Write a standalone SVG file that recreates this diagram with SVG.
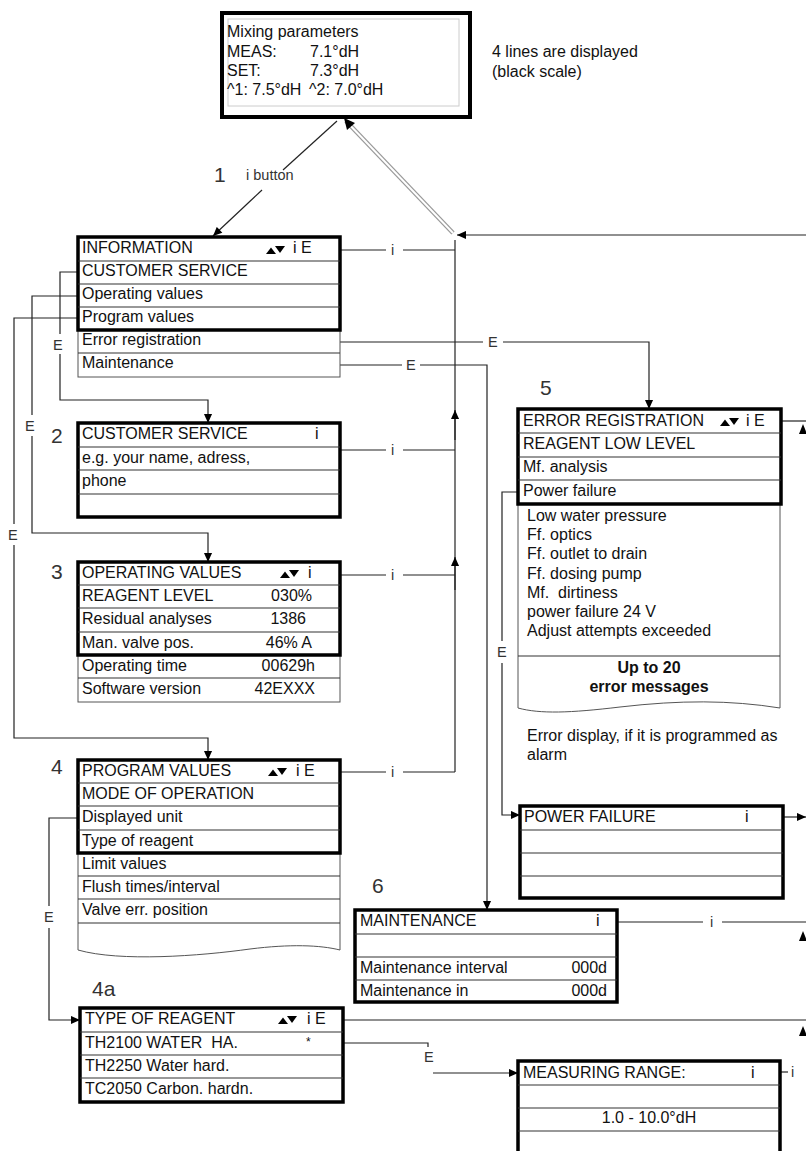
<svg xmlns="http://www.w3.org/2000/svg" width="806" height="1151" viewBox="0 0 806 1151">
<style>
text{font-family:"Liberation Sans",Arial,sans-serif;font-size:16px;fill:#111}
.num{font-size:21px;fill:#333}
.lbl{font-size:14.5px;fill:#333}
.b{font-weight:bold;font-size:16px}
.thick{fill:#fff;stroke:#000;stroke-width:3.5}
.thin{fill:#fff;stroke:#555;stroke-width:1}
.row{stroke:#333;stroke-width:1.2}
.c{fill:none;stroke:#222;stroke-width:1.2}
</style>
<defs>
<marker id="a" viewBox="0 0 10 10" refX="10" refY="5" markerWidth="10" markerHeight="9" markerUnits="userSpaceOnUse" orient="auto"><path d="M0,0.5 L10,5 L0,9.5 z" fill="#000"/></marker>
<g id="ud"><polygon points="0,8 5,1.5 10,8" fill="#000"/><polygon points="9,0 19,0 14,7" fill="#000"/></g>
</defs>

<g id="connectors">
<path class="c" d="M337,121 L283,170"/>
<path class="c" d="M262,190 L213,236" marker-end="url(#a)"/>
<path d="M453,233 L346,121" stroke="#999" stroke-width="4.5" fill="none"/>
<path d="M453,233 L346,121" stroke="#fff" stroke-width="2" fill="none"/>
<polygon points="344,118 347,130 355,123" fill="#000"/>
<path class="c" d="M806,235 H457" marker-end="url(#a)"/>
<path class="c" d="M455,772 V240"/>
<path class="c" d="M455,440 V410" marker-end="url(#a)"/>
<path class="c" d="M455,590 V557" marker-end="url(#a)"/>
<path class="c" d="M340,250 H386 M403,250 H455"/>
<path class="c" d="M340,450 H386 M403,450 H455"/>
<path class="c" d="M340,575 H386 M403,575 H455"/>
<path class="c" d="M340,772 H386 M403,772 H455"/>
<path class="c" d="M78,272 H60 V334 M60,354 V400 H208 V423" marker-end="url(#a)"/>
<path class="c" d="M78,296 H32 V415 M32,436 V533 H208 V562" marker-end="url(#a)"/>
<path class="c" d="M78,318 H14 V524 M14,545 V738 H208 V760" marker-end="url(#a)"/>
<path class="c" d="M78,818 H49 V906 M49,928 V1020 H80" marker-end="url(#a)"/>
<path class="c" d="M340,342 H483 M503,342 H649 V409" marker-end="url(#a)"/>
<path class="c" d="M340,365 H402 M420,365 H487 V910" marker-end="url(#a)"/>
<path class="c" d="M518,492 H502 V641 M502,663 V815 H520" marker-end="url(#a)"/>
<path class="c" d="M343,1043 H428 V1047"/>
<path class="c" d="M433,1073 H518" marker-end="url(#a)"/>
<path class="c" d="M781,421 H806"/>
<path class="c" d="M783,817 H806" marker-end="url(#a)"/>
<path class="c" d="M617,922 H703 M722,922 H806"/>
<path class="c" d="M343,1020 H806"/>
<path class="c" d="M780,1072 H788"/>
<polygon points="799,434 803,424 807,434" fill="#000"/>
<polygon points="799,941 803,931 807,941" fill="#000"/>
<polygon points="799,1036 803,1026 807,1036" fill="#000"/>
<text class="lbl" x="391" y="255">i</text>
<text class="lbl" x="391" y="455">i</text>
<text class="lbl" x="391" y="580">i</text>
<text class="lbl" x="391" y="777">i</text>
<text class="lbl" x="710" y="927">i</text>
<text class="lbl" x="53" y="350">E</text>
<text class="lbl" x="25" y="431">E</text>
<text class="lbl" x="8" y="540">E</text>
<text class="lbl" x="44" y="922">E</text>
<text class="lbl" x="488" y="347">E</text>
<text class="lbl" x="406" y="370">E</text>
<text class="lbl" x="497" y="657">E</text>
<text class="lbl" x="424" y="1062">E</text>
<text class="lbl" x="791" y="1077">i</text>
</g>

<g id="top">
<rect x="222" y="13" width="248" height="104" fill="#fff" stroke="#000" stroke-width="4"/>
<rect x="228" y="19" width="231" height="87" fill="none" stroke="#ccc" stroke-width="1"/>
<text x="227" y="37">Mixing parameters</text>
<text x="227" y="57">MEAS:</text><text x="310" y="57">7.1°dH</text>
<text x="227" y="76">SET:</text><text x="310" y="76">7.3°dH</text>
<text x="227" y="95">^1: 7.5°dH</text><text x="309" y="95">^2: 7.0°dH</text>
</g>
<g id="note">
<text x="492" y="57">4 lines are displayed</text>
<text x="492" y="77">(black scale)</text>
</g>
<g id="label1">
<text class="num" x="214" y="182">1</text>
<text class="lbl" x="246" y="180">i button</text>
</g>

<g id="information">
<rect class="thin" x="78" y="330" width="262" height="47"/>
<line class="row" x1="78" y1="353" x2="340" y2="353"/>
<rect class="thick" x="78" y="237" width="262" height="93"/>
<line class="row" x1="78" y1="261" x2="340" y2="261"/>
<line class="row" x1="78" y1="284" x2="340" y2="284"/>
<line class="row" x1="78" y1="307" x2="340" y2="307"/>
<text x="82" y="253">INFORMATION</text>
<use href="#ud" x="266" y="246"/>
<text x="293" y="253">i E</text>
<text x="82" y="276">CUSTOMER SERVICE</text>
<text x="82" y="299">Operating values</text>
<text x="82" y="322">Program values</text>
<text x="82" y="345">Error registration</text>
<text x="82" y="368">Maintenance</text>
</g>

<g id="customer-service">
<text class="num" x="51" y="443">2</text>
<rect class="thick" x="78" y="423" width="262" height="94"/>
<line class="row" x1="78" y1="447" x2="340" y2="447"/>
<line class="row" x1="78" y1="470" x2="340" y2="470"/>
<line class="row" x1="78" y1="494" x2="340" y2="494"/>
<text x="82" y="439">CUSTOMER SERVICE</text>
<text x="315" y="439">i</text>
<text x="82" y="463">e.g. your name, adress,</text>
<text x="82" y="486">phone</text>
</g>

<g id="operating-values">
<text class="num" x="51" y="579">3</text>
<rect class="thin" x="78" y="655" width="262" height="47"/>
<line class="row" x1="78" y1="678" x2="340" y2="678"/>
<rect class="thick" x="78" y="562" width="262" height="93"/>
<line class="row" x1="78" y1="585" x2="340" y2="585"/>
<line class="row" x1="78" y1="608" x2="340" y2="608"/>
<line class="row" x1="78" y1="632" x2="340" y2="632"/>
<text x="82" y="578">OPERATING VALUES</text>
<use href="#ud" x="280" y="570"/>
<text x="308" y="578">i</text>
<text x="82" y="601">REAGENT LEVEL</text><text x="312" y="601" text-anchor="end">030%</text>
<text x="82" y="624">Residual analyses</text><text x="306" y="624" text-anchor="end">1386</text>
<text x="82" y="648">Man. valve pos.</text><text x="312" y="648" text-anchor="end">46% A</text>
<text x="82" y="671">Operating time</text><text x="315" y="671" text-anchor="end">00629h</text>
<text x="82" y="694">Software version</text><text x="315" y="694" text-anchor="end">42EXXX</text>
</g>

<g id="program-values">
<text class="num" x="51" y="774">4</text>
<path class="thin" d="M78,853 V950 C120,962 200,956 250,949 C290,944 320,945 340,950 V853 Z"/>
<line class="row" x1="78" y1="876" x2="340" y2="876"/>
<line class="row" x1="78" y1="899" x2="340" y2="899"/>
<line class="row" x1="78" y1="923" x2="340" y2="923"/>
<rect class="thick" x="78" y="760" width="262" height="93"/>
<line class="row" x1="78" y1="783" x2="340" y2="783"/>
<line class="row" x1="78" y1="806" x2="340" y2="806"/>
<line class="row" x1="78" y1="830" x2="340" y2="830"/>
<text x="82" y="776">PROGRAM VALUES</text>
<use href="#ud" x="268" y="768"/>
<text x="296" y="776">i E</text>
<text x="82" y="799">MODE OF OPERATION</text>
<text x="82" y="822">Displayed unit</text>
<text x="82" y="846">Type of reagent</text>
<text x="82" y="869">Limit values</text>
<text x="82" y="892">Flush times/interval</text>
<text x="82" y="915">Valve err. position</text>
</g>

<g id="type-of-reagent">
<text class="num" x="92" y="996">4a</text>
<rect class="thick" x="80" y="1008" width="263" height="94"/>
<line class="row" x1="80" y1="1032" x2="343" y2="1032"/>
<line class="row" x1="80" y1="1055" x2="343" y2="1055"/>
<line class="row" x1="80" y1="1078" x2="343" y2="1078"/>
<text x="85" y="1024">TYPE OF REAGENT</text>
<use href="#ud" x="278" y="1016"/>
<text x="307" y="1024">i E</text>
<text x="85" y="1048">TH2100 WATER&#160; HA.</text>
<text x="306" y="1046" style="font-size:12px">*</text>
<text x="85" y="1071">TH2250 Water hard.</text>
<text x="85" y="1094">TC2050 Carbon. hardn.</text>
</g>

<g id="error-registration">
<text class="num" x="540" y="395">5</text>
<path class="thin" d="M518,504 V708 C540,714 570,713 620,707 C680,700 730,700 780,708 V504 Z"/>
<line class="row" x1="518" y1="656" x2="780" y2="656"/>
<rect class="thick" x="518" y="409" width="263" height="95"/>
<line class="row" x1="518" y1="433" x2="781" y2="433"/>
<line class="row" x1="518" y1="457" x2="781" y2="457"/>
<line class="row" x1="518" y1="480" x2="781" y2="480"/>
<text x="523" y="426">ERROR REGISTRATION</text>
<use href="#ud" x="720" y="418"/>
<text x="746" y="426">i E</text>
<text x="523" y="449">REAGENT LOW LEVEL</text>
<text x="523" y="472">Mf. analysis</text>
<text x="523" y="496">Power failure</text>
<text x="527" y="521">Low water pressure</text>
<text x="527" y="540">Ff. optics</text>
<text x="527" y="559">Ff. outlet to drain</text>
<text x="527" y="579">Ff. dosing pump</text>
<text x="527" y="598">Mf.&#160; dirtiness</text>
<text x="527" y="617">power failure 24 V</text>
<text x="527" y="636">Adjust attempts exceeded</text>
<text class="b" x="649" y="673" text-anchor="middle">Up to 20</text>
<text class="b" x="649" y="692" text-anchor="middle">error messages</text>
<text x="527" y="741">Error display, if it is programmed as</text>
<text x="527" y="760">alarm</text>
</g>

<g id="power-failure">
<rect class="thick" x="520" y="806" width="263" height="92"/>
<line class="row" x1="520" y1="830" x2="783" y2="830"/>
<line class="row" x1="520" y1="853" x2="783" y2="853"/>
<line class="row" x1="520" y1="876" x2="783" y2="876"/>
<text x="524" y="822">POWER FAILURE</text>
<text x="745" y="822">i</text>
</g>

<g id="maintenance">
<text class="num" x="372" y="893">6</text>
<rect class="thick" x="355" y="910" width="262" height="92"/>
<line class="row" x1="355" y1="934" x2="617" y2="934"/>
<line class="row" x1="355" y1="957" x2="617" y2="957"/>
<line class="row" x1="355" y1="980" x2="617" y2="980"/>
<text x="360" y="926">MAINTENANCE</text>
<text x="596" y="926">i</text>
<text x="360" y="973">Maintenance interval</text><text x="607" y="973" text-anchor="end">000d</text>
<text x="360" y="996">Maintenance in</text><text x="607" y="996" text-anchor="end">000d</text>
</g>

<g id="measuring-range">
<rect class="thick" x="518" y="1061" width="262" height="100"/>
<line class="row" x1="518" y1="1085" x2="780" y2="1085"/>
<line class="row" x1="518" y1="1108" x2="780" y2="1108"/>
<line class="row" x1="518" y1="1131" x2="780" y2="1131"/>
<text x="523" y="1078">MEASURING RANGE:</text>
<text x="751" y="1078">i</text>
<text x="649" y="1123" text-anchor="middle">1.0 - 10.0°dH</text>
</g>
</svg>
